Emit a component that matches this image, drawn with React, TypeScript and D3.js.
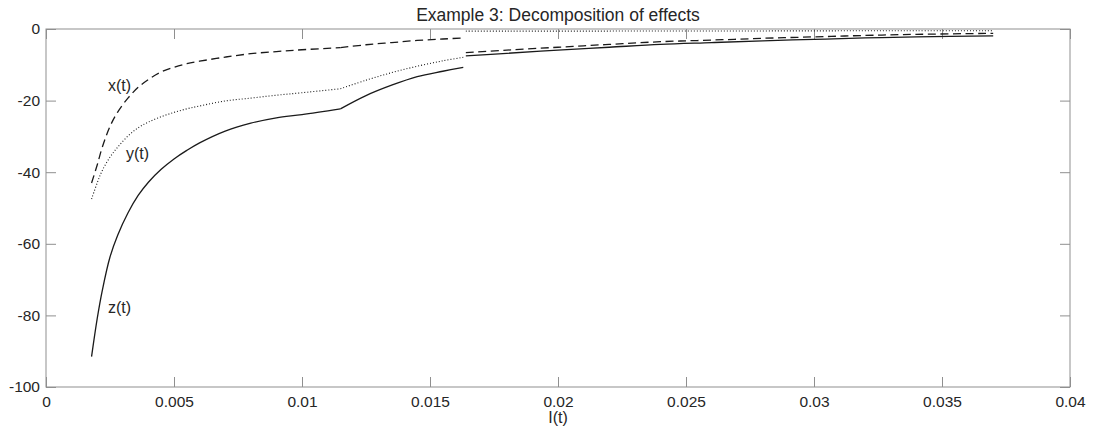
import React, { useEffect, useRef } from "react";
import * as d3 from "d3";

// I(t) grid before the kink, between kink and break, and after the break
const tBefore = [0.00178, 0.002, 0.0022, 0.0025, 0.0028, 0.0032, 0.0036, 0.004, 0.0045, 0.005, 0.0055, 0.006, 0.007, 0.008, 0.009, 0.01, 0.0115];
const tMid = [0.0115, 0.0125, 0.0135, 0.0145, 0.0155, 0.0163];
const tAfter = [0.0164, 0.018, 0.02, 0.022, 0.024, 0.026, 0.028, 0.03, 0.032, 0.034, 0.037];

// x(t), dashed
const xBefore = [-43.0, -38.0, -33.0, -27.2, -23.2, -19.3, -16.3, -14.1, -12.0, -10.7, -9.7, -9.0, -7.85, -6.9, -6.3, -5.8, -5.2];
const xMid = [-5.2, -4.4, -3.8, -3.2, -2.8, -2.5];
const xAfter = [-6.6, -5.9, -5.1, -4.3, -3.55, -3.1, -2.6, -2.2, -1.8, -1.5, -1.2];

// y(t), dotted
const yBefore = [-47.5, -43.0, -39.5, -35.8, -33.0, -29.9, -27.6, -26.0, -24.5, -23.3, -22.3, -21.5, -20.1, -19.3, -18.5, -17.8, -16.7];
const yMid = [-16.7, -14.3, -12.2, -10.4, -8.9, -7.9];
const yAfter = [-0.6, -0.6, -0.6, -0.58, -0.56, -0.55, -0.54, -0.52, -0.5, -0.5, -0.5];

// z(t), solid
const zBefore = [-91.5, -80.9, -73.0, -63.7, -57.6, -51.4, -46.5, -42.8, -39.2, -36.3, -33.9, -31.8, -28.5, -26.3, -24.8, -23.9, -22.3];
const zMid = [-22.3, -18.6, -15.7, -13.3, -11.8, -10.7];
const zAfter = [-7.5, -6.8, -5.9, -5.1, -4.3, -3.8, -3.3, -2.9, -2.5, -2.2, -1.9];

const xTicks = [0, 0.005, 0.01, 0.015, 0.02, 0.025, 0.03, 0.035, 0.04];
const xTickLabels = ["0", "0.005", "0.01", "0.015", "0.02", "0.025", "0.03", "0.035", "0.04"];
const yTicks = [-100, -80, -60, -40, -20, 0];
const yTickLabels = ["-100", "-80", "-60", "-40", "-20", "0"];

// curve labels at data coordinates
const curveLabels = [
  { text: "x(t)", t: 0.00242, v: -15.8 },
  { text: "y(t)", t: 0.003125, v: -34.7 },
  { text: "z(t)", t: 0.00242, v: -77.8 },
];

const series = [
  { name: "x", dash: "8,4.5", width: 1.3, parts: [[tBefore, xBefore], [tMid, xMid], [tAfter, xAfter]] },
  { name: "y", dash: "1,2", width: 1.1, parts: [[tBefore, yBefore], [tMid, yMid], [tAfter, yAfter]] },
  { name: "z", dash: null, width: 1.3, parts: [[tBefore, zBefore], [tMid, zMid], [tAfter, zAfter]] },
];

const FONT = "'Liberation Sans', Arial, Helvetica, sans-serif";

const App = () => {
  const svgRef = useRef(null);
  const width = 1098;
  const height = 432;
  const margin = { top: 29, right: 28, bottom: 45, left: 46 };
  const boxColor = "#8f8f8f";
  const textColor = "#262626";

  useEffect(() => {
    const svgEl = d3.select(svgRef.current);
    svgEl.selectAll("*").remove();

    const x = d3.scaleLinear().domain([0, 0.04]).range([margin.left, width - margin.right]);
    const y = d3.scaleLinear().domain([-100, 0]).range([height - margin.bottom, margin.top]);

    const styleAxis = (g) => {
      g.select(".domain").remove();
      g.selectAll(".tick line").attr("stroke", boxColor);
      g.selectAll(".tick text")
        .attr("fill", textColor)
        .attr("font-size", 15.5)
        .attr("font-family", FONT);
    };

    svgEl
      .append("g")
      .attr("transform", `translate(0,${height - margin.bottom})`)
      .call(
        d3.axisBottom(x).tickValues(xTicks).tickFormat((d, i) => xTickLabels[i])
          .tickSizeInner(-10).tickSizeOuter(0).tickPadding(9)
      )
      .call(styleAxis);

    svgEl
      .append("g")
      .attr("transform", `translate(0,${margin.top})`)
      .call(d3.axisTop(x).tickValues(xTicks).tickFormat(() => "").tickSizeInner(-10).tickSizeOuter(0))
      .call(styleAxis);

    svgEl
      .append("g")
      .attr("transform", `translate(${margin.left},0)`)
      .call(
        d3.axisLeft(y).tickValues(yTicks).tickFormat((d, i) => yTickLabels[i])
          .tickSizeInner(-10).tickSizeOuter(0).tickPadding(6)
      )
      .call(styleAxis);

    svgEl
      .append("g")
      .attr("transform", `translate(${width - margin.right},0)`)
      .call(d3.axisRight(y).tickValues(yTicks).tickFormat(() => "").tickSizeInner(-10).tickSizeOuter(0))
      .call(styleAxis);

    svgEl
      .append("rect")
      .attr("x", margin.left)
      .attr("y", margin.top)
      .attr("width", width - margin.left - margin.right)
      .attr("height", height - margin.top - margin.bottom)
      .attr("fill", "none")
      .attr("stroke", boxColor);

    const line = d3
      .line()
      .x((d) => x(d[0]))
      .y((d) => y(d[1]))
      .curve(d3.curveCatmullRom.alpha(0.5));

    series.forEach((s) => {
      s.parts.forEach(([ts, vs]) => {
        svgEl
          .append("path")
          .datum(ts.map((t, i) => [t, vs[i]]))
          .attr("fill", "none")
          .attr("stroke", "#1a1a1a")
          .attr("stroke-width", s.width)
          .attr("stroke-dasharray", s.dash)
          .attr("d", line);
      });
    });

    svgEl
      .append("g")
      .selectAll("text")
      .data(curveLabels)
      .join("text")
      .attr("x", (d) => x(d.t))
      .attr("y", (d) => y(d.v))
      .attr("dy", "0.35em")
      .attr("font-size", 16)
      .attr("font-family", FONT)
      .attr("fill", textColor)
      .text((d) => d.text);

    svgEl
      .append("text")
      .attr("x", (margin.left + width - margin.right) / 2)
      .attr("y", 21)
      .attr("text-anchor", "middle")
      .attr("font-size", 17.5)
      .attr("font-family", FONT)
      .attr("fill", textColor)
      .text("Example 3: Decomposition of effects");

    svgEl
      .append("text")
      .attr("x", (margin.left + width - margin.right) / 2)
      .attr("y", 423)
      .attr("text-anchor", "middle")
      .attr("font-size", 16)
      .attr("font-family", FONT)
      .attr("fill", textColor)
      .text("I(t)");
  }, []);

  return (
    <svg
      ref={svgRef}
      width={width}
      height={height}
      style={{ position: "absolute", left: 0, top: 0, background: "#fff" }}
    />
  );
};

export default App;
